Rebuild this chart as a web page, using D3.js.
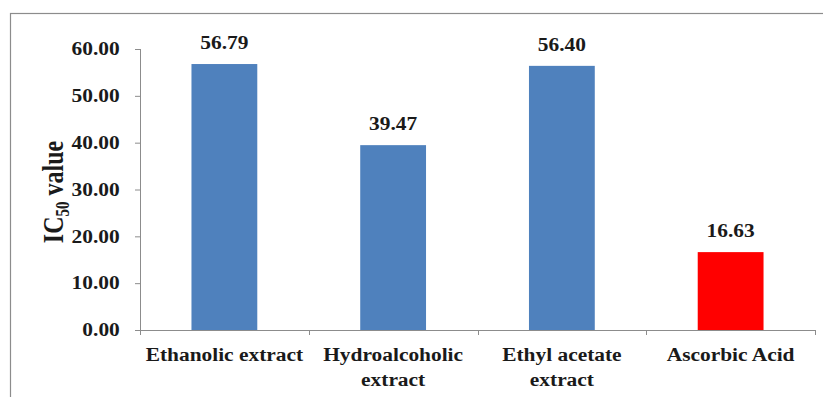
<!DOCTYPE html>
<html>
<head>
<meta charset="utf-8">
<script src="https://cdn.jsdelivr.net/npm/d3@7"></script>
<style>
  html, body { margin: 0; padding: 0; background: #fff; }
  svg { display: block; }
  text { font-family: "Liberation Serif", "Times New Roman", serif; font-weight: bold; fill: #1a1a1a; }
</style>
</head>
<body>
<svg id="chart" width="823" height="397"></svg>
<script>
// IC50 values per sample
const categories = ["Ethanolic extract", "Hydroalcoholic extract", "Ethyl acetate extract", "Ascorbic Acid"];
const categoryLines = [["Ethanolic extract"], ["Hydroalcoholic", "extract"], ["Ethyl acetate", "extract"], ["Ascorbic Acid"]];
const values = [56.79, 39.47, 56.40, 16.63];
const barColors = ["#4f81bd", "#4f81bd", "#4f81bd", "#ff0000"];
const yTicks = [0, 10, 20, 30, 40, 50, 60];

const W = 823, H = 397;
const plot = { left: 140, right: 815, top: 49, bottom: 330 };
const stretch = 1.19;   // horizontal stretch applied to all lettering

const svg = d3.select("#chart");

// outer frame
svg.append("rect")
  .attr("x", 10.5).attr("y", 13.5)
  .attr("width", 830).attr("height", 420)
  .attr("fill", "none").attr("stroke", "#8c8c8c").attr("stroke-width", 1.2);

const x = d3.scaleBand()
  .domain(categories)
  .range([plot.left, plot.right])
  .paddingInner(0.61).paddingOuter(0.305);

const y = d3.scaleLinear()
  .domain([0, 60])
  .range([plot.bottom, plot.top]);

// y axis
const yAxis = svg.append("g")
  .attr("transform", `translate(${plot.left},0)`)
  .call(d3.axisLeft(y).tickValues(yTicks).tickFormat(d3.format(".2f")).tickSize(5).tickPadding(12));
yAxis.select(".domain").attr("stroke", "#8c8c8c").attr("d", `M0.5,${plot.top}V${plot.bottom}`);
yAxis.selectAll(".tick line").attr("stroke", "#8c8c8c");
yAxis.selectAll(".tick text")
  .attr("font-size", 18)
  .attr("font-family", "'Liberation Serif', serif")
  .attr("font-weight", "bold")
  .attr("fill", "#1a1a1a")
  .attr("transform", `scale(${stretch},1)`);

// x axis with ticks at category boundaries
const bounds = d3.range(categories.length + 1).map(i => plot.left + i * x.step());
svg.append("line")
  .attr("x1", plot.left).attr("x2", plot.right)
  .attr("y1", plot.bottom + 0.5).attr("y2", plot.bottom + 0.5)
  .attr("stroke", "#8c8c8c");
svg.selectAll(".xtick").data(bounds).join("line")
  .attr("class", "xtick")
  .attr("x1", d => Math.round(d) + 0.5).attr("x2", d => Math.round(d) + 0.5)
  .attr("y1", plot.bottom).attr("y2", plot.bottom + 5)
  .attr("stroke", "#8c8c8c");

// bars
svg.selectAll(".bar").data(values).join("rect")
  .attr("class", "bar")
  .attr("x", (d, i) => x(categories[i]))
  .attr("width", x.bandwidth())
  .attr("y", d => y(d))
  .attr("height", d => y(0) - y(d))
  .attr("fill", (d, i) => barColors[i]);

// value labels
svg.selectAll(".val").data(values).join("text")
  .attr("class", "val")
  .attr("transform", (d, i) => `translate(${x(categories[i]) + x.bandwidth() / 2},${y(d) - 15}) scale(${stretch},1)`)
  .attr("text-anchor", "middle")
  .attr("font-size", 18)
  .text(d => d.toFixed(2));

// category labels
categoryLines.forEach((lines, i) => {
  const cx = x(categories[i]) + x.bandwidth() / 2;
  lines.forEach((line, j) => {
    svg.append("text")
      .attr("transform", `translate(${cx},${361 + j * 25}) scale(${stretch},1)`)
      .attr("text-anchor", "middle")
      .attr("font-size", 18)
      .text(line);
  });
});

// y axis title: IC50 value with subscript
const title = svg.append("text")
  .attr("transform", `translate(63,192) scale(${stretch},1) rotate(-90)`)
  .attr("text-anchor", "middle")
  .attr("font-size", 24);
title.append("tspan").text("IC");
title.append("tspan").attr("font-size", 15).attr("dy", 5).text("50");
title.append("tspan").attr("dy", -5).text(" value");
</script>
</body>
</html>
